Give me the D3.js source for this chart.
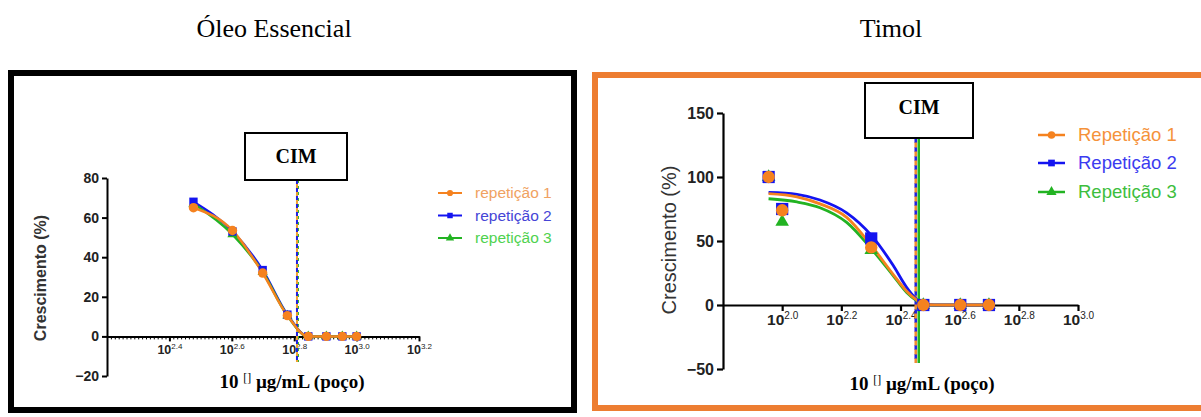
<!DOCTYPE html>
<html><head><meta charset="utf-8">
<script src="https://cdn.jsdelivr.net/npm/d3@7"></script>
<style>
html,body{margin:0;padding:0;background:#fff;}
svg{display:block;}
</style></head>
<body>
<svg id="chart" width="1201" height="417"></svg>
<script>
// ---------- DATA ----------
const panelTitles = ["Óleo Essencial", "Timol"];
const seriesNamesLeft = ["repetição 1", "repetição 2", "repetição 3"];
const seriesNamesRight = ["Repetição 1", "Repetição 2", "Repetição 3"];

// Left panel (Óleo Essencial): concentrations in µg/mL
const leftConc = [300, 400, 500, 600, 700, 800, 900, 1000];
const leftRep1 = [65, 53.5, 32, 10.5, 0, 0, 0, 0];
const leftRep2 = [68, 53, 33.5, 11, 0, 0, 0, 0];
const leftRep3 = [67, 51.5, 32.5, 10.5, 0, 0, 0, 0];
const leftXTicks = [2.4, 2.6, 2.8, 3.0, 3.2];   // exponents
const leftYTicks = [-20, 0, 20, 40, 60, 80];
const leftCIM = 644;

// Right panel (Timol)
const rightConc = [90, 100, 200, 300, 400, 500];
const rightRep1 = [100, 74, 45, 0, 0, 0];
const rightRep2 = [100, 75, 52, 0, 0, 0];
const rightRep3 = [100, 65, 43, 0, 0, 0];
// fitted curves (log10 concentration -> %)
const rightFitLog = [1.954, 2.05, 2.128, 2.218, 2.303, 2.375, 2.42, 2.454, 2.477, 2.55, 2.699];
const rightFit1 = [87, 84.5, 79, 68.5, 46, 24, 11, 4, 0.5, 0, 0];
const rightFit2 = [88, 86.5, 82, 72, 54, 31, 14, 4.5, 0.5, 0, 0];
const rightFit3 = [83, 80.5, 76, 64.5, 43.5, 23, 10, 3.5, 0.5, 0, 0];
const rightXTicks = [2.0, 2.2, 2.4, 2.6, 2.8, 3.0];
const rightYTicks = [-50, 0, 50, 100, 150];
const rightCIM = 285;

const xTitleMain = "10", xTitleSup = "[]", xTitleRest = " µg/mL (poço)";
const yTitle = "Crescimento (%)";
const cimLabel = "CIM";

// ---------- STYLE ----------
const C_OR = "#F5821F", C_BL = "#1414F0", C_GR = "#22B322";
const LEG_L = ["#F0A262", "#4545D6", "#4FD24F"];
const LEG_R = ["#F5923A", "#3B3BF0", "#3DBE3D"];
const SERIF = "'Liberation Serif','Times New Roman',serif";
const SANS = "'Liberation Sans',Arial,sans-serif";

const svg = d3.select("#chart");

// titles
svg.append("text").attr("x", 274).attr("y", 37).attr("text-anchor", "middle")
  .attr("font-family", SERIF).attr("font-size", 26).text(panelTitles[0]);
svg.append("text").attr("x", 891).attr("y", 37).attr("text-anchor", "middle")
  .attr("font-family", SERIF).attr("font-size", 26).text(panelTitles[1]);

// frames
svg.append("rect").attr("x", 11).attr("y", 73).attr("width", 563).attr("height", 337)
  .attr("fill", "none").attr("stroke", "#000").attr("stroke-width", 6);
svg.append("rect").attr("x", 595).attr("y", 75).attr("width", 700).attr("height", 333)
  .attr("fill", "none").attr("stroke", "#ED7D31").attr("stroke-width", 6);

function supLabel(sel, exp, mainSize, supSize, supShift, baseY) {
  sel.each(function(d) {
    const t = d3.select(this);
    t.text(null).attr("dy", null).attr("y", baseY);
    t.append("tspan").attr("font-weight", "bold").attr("font-size", mainSize).text("10");
    t.append("tspan").attr("font-size", supSize).attr("dy", -supShift).text(exp(d));
  });
}

function drawPanel(cfg) {
  const g = svg.append("g");
  const x = d3.scaleLinear().domain(cfg.xDomain).range(cfg.xRange);
  const y = d3.scaleLinear().domain(cfg.yDomain).range(cfg.yRange);
  const lx = c => x(Math.log10(c));

  // y axis
  const ya = g.append("g").attr("transform", `translate(${cfg.xRange[0]},0)`)
    .call(d3.axisLeft(y).tickValues(cfg.yTicks).tickSize(cfg.tick).tickSizeOuter(0).tickPadding(3));
  ya.select(".domain").attr("stroke-width", cfg.axW);
  ya.selectAll(".tick line").attr("stroke-width", cfg.axW);
  ya.selectAll("text").attr("font-family", SANS).attr("font-weight", "bold")
    .attr("font-size", cfg.tickFont).attr("fill", "#222");

  // x axis at y=0
  const y0 = y(0);
  if (cfg.minor) {
    const minorVals = d3.range(cfg.xDomain[0], cfg.xDomain[1] + 1e-9, 0.2 / 16);
    const mi = g.append("g").attr("transform", `translate(0,${y0})`)
      .call(d3.axisBottom(x).tickValues(minorVals).tickSize(3).tickSizeOuter(0).tickFormat(""));
    mi.select(".domain").remove();
    mi.selectAll(".tick line").attr("stroke-width", 1);
  }
  const xa = g.append("g").attr("transform", `translate(0,${y0})`)
    .call(d3.axisBottom(x).tickValues(cfg.xTicks).tickSize(cfg.tick).tickSizeOuter(0));
  xa.select(".domain").attr("stroke-width", cfg.axW);
  xa.selectAll(".tick line").attr("stroke-width", cfg.axW);
  xa.selectAll("text").attr("font-family", SANS).attr("fill", "#222")
    .call(supLabel, d => d.toFixed(1), cfg.xTickFont, cfg.xSupFont, cfg.supShift, cfg.xLabBase);

  // axis titles
  g.append("text").attr("transform", `translate(${cfg.yTitleX},${cfg.yTitleY}) rotate(-90)`)
    .attr("text-anchor", "middle").attr("font-family", SANS).attr("font-weight", cfg.yTitleWeight)
    .attr("font-size", cfg.yTitleFont).attr("fill", "#333").text(yTitle);
  const xt = g.append("text").attr("x", cfg.xTitleX).attr("y", cfg.xTitleY).attr("text-anchor", "middle")
    .attr("font-family", SERIF).attr("font-weight", "bold").attr("font-size", cfg.xTitleFont);
  xt.append("tspan").text(xTitleMain + " ");
  xt.append("tspan").attr("font-size", cfg.xTitleFont * 0.62).attr("dy", -6).attr("font-weight", "normal").text(xTitleSup);
  xt.append("tspan").attr("dy", 6).text(xTitleRest);

  // CIM line
  const cx = lx(cfg.cim);
  const vl = (col, dash, off, w, dx) => g.append("line").attr("x1", cx + dx).attr("x2", cx + dx)
    .attr("y1", cfg.cimBox[3]).attr("y2", cfg.cimBottom).attr("stroke", col).attr("stroke-width", w)
    .attr("stroke-dasharray", dash).attr("stroke-dashoffset", off);
  cfg.cimLines.forEach(l => vl(l[0], l[1], l[2], l[3], l[4]));

  // CIM box
  const [bx0, by0, bx1, by1] = cfg.cimBox;
  g.append("rect").attr("x", bx0).attr("y", by0).attr("width", bx1 - bx0).attr("height", by1 - by0)
    .attr("fill", "#fff").attr("stroke", "#000").attr("stroke-width", 2);
  g.append("text").attr("x", (bx0 + bx1) / 2).attr("y", cfg.cimTextY).attr("text-anchor", "middle")
    .attr("font-family", SERIF).attr("font-weight", "bold").attr("font-size", 20).text(cimLabel);

  // curves
  const line = d3.line().x(d => d[0]).y(d => d[1]).curve(d3.curveMonotoneX);
  cfg.curves.forEach(c => {
    g.append("path").attr("d", line(c.pts)).attr("fill", "none")
      .attr("stroke", c.color).attr("stroke-width", cfg.curveW);
  });

  // markers
  const sym = { circle: d3.symbolCircle, square: d3.symbolSquare, triangle: d3.symbolTriangle };
  cfg.points.forEach(p => {
    const s = d3.symbol().type(sym[p.shape]).size(p.size);
    g.selectAll(null).data(p.vals.map((v, i) => [cfg.conc[i], v])).enter().append("path")
      .attr("d", s).attr("transform", d => `translate(${lx(d[0])},${y(d[1])})`)
      .attr("fill", p.color).attr("stroke", p.stroke || "none").attr("stroke-width", 1);
  });

  // legend
  cfg.legend.items.forEach((it, i) => {
    const ly = cfg.legend.y[i];
    const L = cfg.legend;
    g.append("line").attr("x1", L.x0).attr("x2", L.x1).attr("y1", ly).attr("y2", ly)
      .attr("stroke", it.color).attr("stroke-width", L.lw);
    g.append("path").attr("d", d3.symbol().type(sym[it.shape]).size(L.msize))
      .attr("transform", `translate(${(L.x0 + L.x1) / 2},${ly})`).attr("fill", it.color);
    g.append("text").attr("x", L.tx).attr("y", ly).attr("dy", "0.35em")
      .attr("font-family", SANS).attr("font-size", L.font).attr("fill", it.text).text(it.name);
  });
}

// ---------- LEFT PANEL ----------
(function() {
  const xs = d3.scaleLinear().domain([2.2, 3.2]).range([107, 419]);
  const ys = d3.scaleLinear().domain([-20, 80]).range([376, 178]);
  const pts = vals => vals.map((v, i) => [xs(Math.log10(leftConc[i])), ys(v)]);
  drawPanel({
    xDomain: [2.2, 3.2], xRange: [107, 419], yDomain: [-20, 80], yRange: [376, 178],
    yTicks: leftYTicks, xTicks: leftXTicks, tick: 5, axW: 2, tickFont: 14,
    xTickFont: 12.5, xSupFont: 8, supShift: 5, xLabBase: 18, minor: true,
    yTitleX: 46, yTitleY: 278, yTitleFont: 16, yTitleWeight: "bold",
    xTitleX: 292, xTitleY: 388, xTitleFont: 19,
    cim: leftCIM, cimBox: [245, 133, 347, 180], cimTextY: 163, cimBottom: 362,
    cimLines: [["#2fb52f", "3,3", 0, 2, 1], ["#1f1fe0", "4,4", 0, 2, 0], ["#f0a030", "4,4", 4, 2, 0]],
    conc: leftConc, curveW: 2.5,
    curves: [
      { color: C_BL, pts: pts(leftRep2) },
      { color: C_GR, pts: pts(leftRep3) },
      { color: C_OR, pts: pts(leftRep1) }
    ],
    points: [
      { shape: "triangle", size: 45, color: C_GR, vals: leftRep3 },
      { shape: "square", size: 70, color: C_BL, vals: leftRep2 },
      { shape: "circle", size: 70, color: C_OR, vals: leftRep1 }
    ],
    legend: {
      x0: 438, x1: 462, tx: 475, y: [193, 215.5, 238], lw: 2, msize: 30, font: 15.5,
      items: [
        { name: seriesNamesLeft[0], color: C_OR, text: LEG_L[0], shape: "circle" },
        { name: seriesNamesLeft[1], color: C_BL, text: LEG_L[1], shape: "square" },
        { name: seriesNamesLeft[2], color: C_GR, text: LEG_L[2], shape: "triangle" }
      ]
    }
  });
})();

// ---------- RIGHT PANEL ----------
(function() {
  const xs = d3.scaleLinear().domain([1.8, 3.0]).range([723, 1078]);
  const ys = d3.scaleLinear().domain([-50, 150]).range([369, 113]);
  const fit = vals => vals.map((v, i) => [xs(rightFitLog[i]), ys(v)]);
  drawPanel({
    xDomain: [1.8, 3.0], xRange: [723, 1078], yDomain: [-50, 150], yRange: [369, 113],
    yTicks: rightYTicks, xTicks: rightXTicks, tick: 6, axW: 2.2, tickFont: 16,
    xTickFont: 15.5, xSupFont: 10, supShift: 6, xLabBase: 20, minor: false,
    yTitleX: 676, yTitleY: 240, yTitleFont: 20, yTitleWeight: "normal",
    xTitleX: 922, xTitleY: 390, xTitleFont: 19,
    cim: rightCIM, cimBox: [865, 83, 973, 138], cimTextY: 114, cimBottom: 363,
    cimLines: [["#22b322", "none", 0, 2.5, 2], ["#2020e0", "5,4", 0, 2.5, -1], ["#f08a30", "5,4", 4.5, 2.5, -1]],
    conc: rightConc, curveW: 2.8,
    curves: [
      { color: C_GR, pts: fit(rightFit3) },
      { color: C_BL, pts: fit(rightFit2) },
      { color: C_OR, pts: fit(rightFit1) }
    ],
    points: [
      { shape: "triangle", size: 80, color: C_GR, vals: rightRep3 },
      { shape: "square", size: 150, color: C_BL, vals: rightRep2 },
      { shape: "circle", size: 120, color: C_OR, vals: rightRep1 }
    ],
    legend: {
      x0: 1038, x1: 1065, tx: 1078, y: [135, 163, 192], lw: 2.5, msize: 45, font: 18.5,
      items: [
        { name: seriesNamesRight[0], color: C_OR, text: LEG_R[0], shape: "circle" },
        { name: seriesNamesRight[1], color: C_BL, text: LEG_R[1], shape: "square" },
        { name: seriesNamesRight[2], color: C_GR, text: LEG_R[2], shape: "triangle" }
      ]
    }
  });
})();
</script>
</body></html>
